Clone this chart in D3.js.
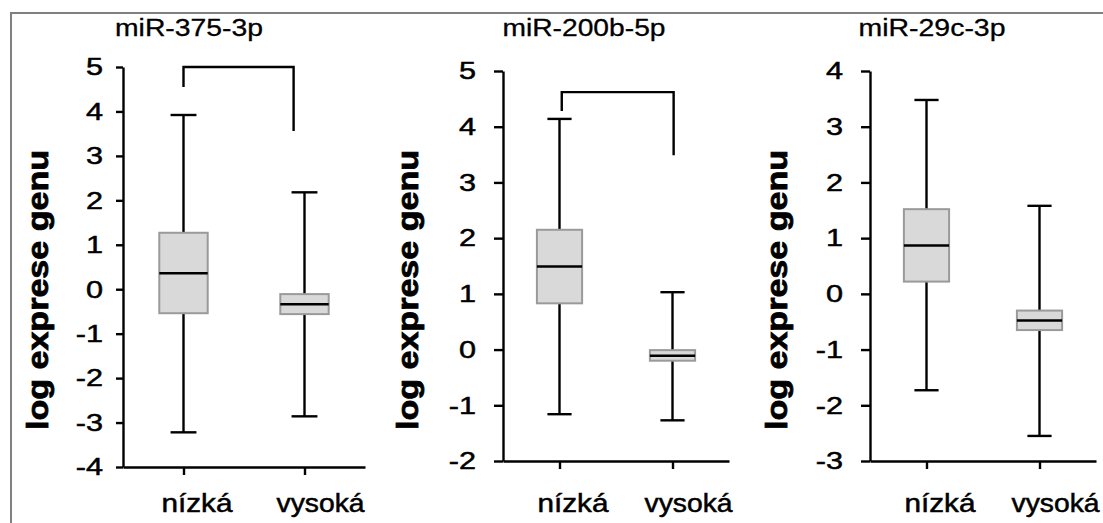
<!DOCTYPE html>
<html lang="cs">
<head>
  <meta charset="UTF-8" />
  <title>log exprese genu</title>
  <script src="https://d3js.org/d3.v7.min.js"></script>
  <style>
    body {
      margin: 0;
      background: #fff;
      font-family: "Liberation Sans", Arial, sans-serif;
    }
    .axis path, .axis line {
      stroke: #000;
      stroke-width: 2.4;
    }
    text {
      fill: #000;
      stroke: #000;
      stroke-width: 0.5;
    }
    .tick-label {
      font-size: 24.5px;
    }
    .title {
      font-size: 23px;
      stroke-width: 0.3;
    }
    .ylabel {
      font-size: 30px;
      font-weight: bold;
      stroke-width: 0.8;
    }
    .xlabel {
      font-size: 25px;
    }
  </style>
</head>
<body>
<svg width="1103" height="523"></svg>

<script>
  // data
  const genes = ["miR-375-3p", "miR-200b-5p", "miR-29c-3p"];
  const groups = ["nízká", "vysoká"];
  const yDomains = [[-4, 5], [-2, 5], [-3, 4]];
  const yTicks = [
    [-4, -3, -2, -1, 0, 1, 2, 3, 4, 5],
    [-2, -1, 0, 1, 2, 3, 4, 5],
    [-3, -2, -1, 0, 1, 2, 3, 4]
  ];
  const whiskerLow  = [[-3.22, -2.86], [-1.16, -1.27], [-1.73, -2.55]];
  const q1          = [[-0.54, -0.56], [0.83, -0.20], [0.22, -0.65]];
  const medians     = [[0.36, -0.34], [1.49, -0.11], [0.87, -0.48]];
  const q3          = [[1.27, -0.11], [2.15, -0.01], [1.52, -0.30]];
  const whiskerHigh = [[3.92, 2.18], [4.14, 1.03], [3.48, 1.58]];
  // significance brackets: x in group units (0 = nízká, 1 = vysoká), y in data units
  const brackets = [
    {x1: 0, x2: 0.91, top: 5, end1: 4.55, end2: 3.56},
    {x1: 0.02, x2: 1.01, top: 4.62, end1: 4.28, end2: 3.49},
    null
  ];
  const yTitle = "log exprese genu";

  // layout of the three panels
  const panels = [
    {x0: 123, x1: 365, top: 67, bottom: 467, tick: 7, pad: 13, titleX: 189, titleW: 148, labelX: 48},
    {x0: 503, x1: 729, top: 71, bottom: 461, tick: 9, pad: 18, titleX: 584, titleW: 163, labelX: 418},
    {x0: 870, x1: 1096, top: 71, bottom: 461, tick: 9, pad: 18, titleX: 932, titleW: 147, labelX: 787}
  ];
  const xLabelShift = [13.5, 16];
  const xLabelWidth = [71, 88];

  const svg = d3.select("svg");

  // grey frame (top and left edges only)
  svg.append("path")
    .attr("d", "M11,523V13H1103")
    .attr("fill", "none")
    .attr("stroke", "#808080")
    .attr("stroke-width", 2);

  genes.forEach((gene, i) => {
    const p = panels[i];
    const w = p.x1 - p.x0;
    const g = svg.append("g");

    const y = d3.scaleLinear().domain(yDomains[i]).range([p.bottom, p.top]);
    const x = d3.scaleLinear().domain([-0.5, 1.5]).range([p.x0, p.x1]);
    const boxW = w * 0.2, capW = w * 0.107;

    // y axis
    const ya = g.append("g")
      .attr("class", "axis")
      .attr("transform", `translate(${p.x0},0)`)
      .call(d3.axisLeft(y).tickValues(yTicks[i]).tickFormat(d => String(d))
        .tickSize(p.tick).tickSizeOuter(0).tickPadding(p.pad));
    ya.attr("font-family", null).attr("font-size", null);
    ya.selectAll("text")
      .attr("class", "tick-label")
      .attr("fill", null)
      .each(function() {
        const len = this.getComputedTextLength();
        d3.select(this).attr("textLength", len * 1.25).attr("lengthAdjust", "spacingAndGlyphs");
      });

    // x axis
    g.append("g")
      .attr("class", "axis")
      .attr("transform", `translate(0,${p.bottom})`)
      .call(d3.axisBottom(x).tickValues([0, 1]).tickFormat("")
        .tickSize(8).tickSizeOuter(0));

    groups.forEach((grp, j) => {
      g.append("text")
        .attr("class", "xlabel")
        .attr("x", x(j) + xLabelShift[j])
        .attr("y", 512)
        .attr("text-anchor", "middle")
        .attr("textLength", xLabelWidth[j])
        .attr("lengthAdjust", "spacingAndGlyphs")
        .text(grp);
    });

    // boxes
    groups.forEach((grp, j) => {
      const cx = x(j);
      g.append("line")
        .attr("x1", cx).attr("x2", cx)
        .attr("y1", y(q3[i][j])).attr("y2", y(whiskerHigh[i][j]))
        .attr("stroke", "#000").attr("stroke-width", 2.4);
      g.append("line")
        .attr("x1", cx).attr("x2", cx)
        .attr("y1", y(q1[i][j])).attr("y2", y(whiskerLow[i][j]))
        .attr("stroke", "#000").attr("stroke-width", 2.4);
      [whiskerHigh[i][j], whiskerLow[i][j]].forEach(v => {
        g.append("line")
          .attr("x1", cx - capW / 2).attr("x2", cx + capW / 2)
          .attr("y1", y(v)).attr("y2", y(v))
          .attr("stroke", "#000").attr("stroke-width", 2.4);
      });
      g.append("rect")
        .attr("x", cx - boxW / 2)
        .attr("y", y(q3[i][j]))
        .attr("width", boxW)
        .attr("height", y(q1[i][j]) - y(q3[i][j]))
        .attr("fill", "#d9d9d9")
        .attr("stroke", "#9a9a9a")
        .attr("stroke-width", 2);
      g.append("line")
        .attr("x1", cx - boxW / 2).attr("x2", cx + boxW / 2)
        .attr("y1", y(medians[i][j])).attr("y2", y(medians[i][j]))
        .attr("stroke", "#000").attr("stroke-width", 2.5);
    });

    // significance bracket
    const b = brackets[i];
    if (b) {
      g.append("path")
        .attr("d", d3.line()([
          [x(b.x1), y(b.end1)], [x(b.x1), y(b.top)],
          [x(b.x2), y(b.top)], [x(b.x2), y(b.end2)]
        ]))
        .attr("fill", "none")
        .attr("stroke", "#000")
        .attr("stroke-width", 2.4);
    }

    // titles
    g.append("text")
      .attr("class", "title")
      .attr("x", p.titleX)
      .attr("y", 36)
      .attr("text-anchor", "middle")
      .attr("textLength", p.titleW)
      .attr("lengthAdjust", "spacingAndGlyphs")
      .text(gene);

    g.append("text")
      .attr("class", "ylabel")
      .attr("transform", `translate(${p.labelX},290) rotate(-90)`)
      .attr("text-anchor", "middle")
      .attr("textLength", 280)
      .attr("lengthAdjust", "spacingAndGlyphs")
      .text(yTitle);
  });
</script>

</body>
</html>
